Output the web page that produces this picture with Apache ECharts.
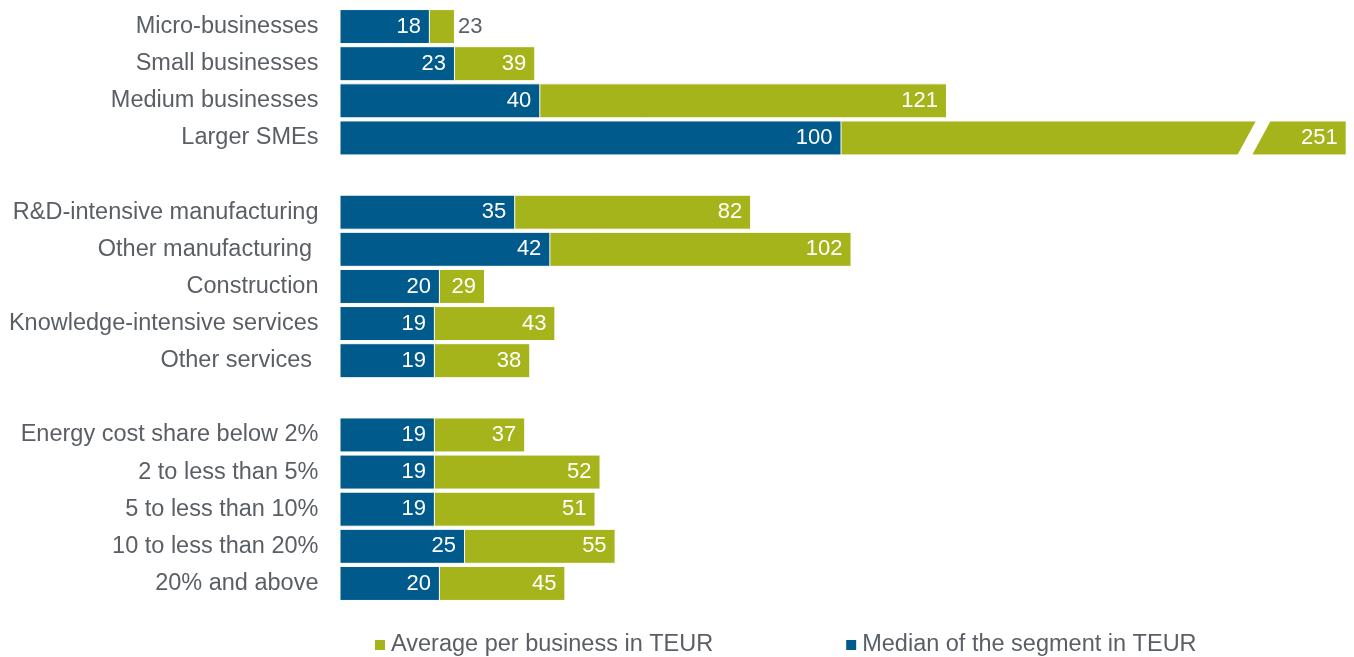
<!DOCTYPE html>
<html>
<head>
<meta charset="utf-8">
<script src="https://cdn.jsdelivr.net/npm/echarts@6/dist/echarts.min.js"></script>
<style>
  html, body { margin: 0; padding: 0; background: #fff; }
  #chart { width: 1354px; height: 657px; }
</style>
</head>
<body>
<div id="chart"></div>
<script>
// Segments (blank entries separate the three groups)
const categories = [
  'Micro-businesses', 'Small businesses', 'Medium businesses', 'Larger SMEs',
  ' ',
  'R&D-intensive manufacturing', 'Other manufacturing ', 'Construction',
  'Knowledge-intensive services', 'Other services ',
  '  ',
  'Energy cost share below 2%', '2 to less than 5%', '5 to less than 10%',
  '10 to less than 20%', '20% and above'
];
// Average per business in TEUR
const averageValues = [23, 39, 121, 251, null, 82, 102, 29, 43, 38, null, 37, 52, 51, 55, 45];
// Median of the segment in TEUR
const medianValues = [18, 23, 40, 100, null, 35, 42, 20, 19, 19, null, 19, 19, 19, 25, 20];
// Collapsed stretch of the value axis for the one long bar (gap in axis units)
const axisBreak = { start: 180.7, end: 234.0, gap: 2.93 };

const BLUE = '#005a8c';
const GREEN = '#a6b41b';
const GREY = '#5a5f65';
const FONT = 'Liberation Sans, Arial, sans-serif';

const chart = echarts.init(document.getElementById('chart'));

// Short bars get their value printed beside the bar instead of inside it
const averageData = averageValues.map(function (v, i) {
  if (v === null) return '-';
  if (medianValues[i] !== null && v - medianValues[i] < 8) {
    return { value: v, label: { position: 'right', color: GREY, distance: 3 } };
  }
  return v;
});

chart.setOption({
  animation: false,
  textStyle: { fontFamily: FONT },
  grid: { left: 339.5, right: 7.3, top: 8, bottom: 55, containLabel: false },
  legend: {
    data: ['Average per business in TEUR', 'Median of the segment in TEUR'],
    left: 375,
    top: 633,
    padding: 0,
    icon: 'rect',
    itemWidth: 10,
    itemHeight: 10,
    itemGap: 133,
    itemStyle: { borderWidth: 0 },
    textStyle: { fontSize: 23.5, color: GREY, fontFamily: FONT, padding: [0, 0, 0, 1] }
  },
  xAxis: {
    type: 'value',
    min: 0,
    max: 251,
    axisLine: { show: false },
    axisTick: { show: false },
    axisLabel: { show: false },
    splitLine: { show: false },
    breaks: [{ start: axisBreak.start, end: axisBreak.end, gap: axisBreak.gap }],
    breakArea: { show: false }
  },
  yAxis: {
    type: 'category',
    data: categories,
    inverse: true,
    axisLine: { show: false },
    axisTick: { show: false },
    axisLabel: { fontSize: 23.5, color: GREY, margin: 21, fontFamily: FONT }
  },
  series: [
    {
      name: 'Average per business in TEUR',
      type: 'bar',
      barWidth: 35,
      barGap: '-100%',
      data: averageData,
      itemStyle: { color: GREEN, borderColor: '#ffffff', borderWidth: 1 },
      label: {
        show: true,
        position: 'insideRight',
        distance: 9,
        color: '#ffffff',
        fontSize: 22,
        fontFamily: FONT
      },
      z: 2
    },
    {
      name: 'Median of the segment in TEUR',
      type: 'bar',
      barWidth: 35,
      barGap: '-100%',
      data: medianValues.map(function (v) { return v === null ? '-' : v; }),
      itemStyle: { color: BLUE, borderColor: '#ffffff', borderWidth: 1 },
      label: {
        show: true,
        position: 'insideRight',
        distance: 9,
        color: '#ffffff',
        fontSize: 22,
        fontFamily: FONT
      },
      z: 3
    },
    {
      // White slanted cut marking the shortened bar
      name: 'break',
      type: 'custom',
      silent: true,
      clip: false,
      z: 10,
      encode: { x: [0, 1], y: 2 },
      data: [[axisBreak.start, axisBreak.end, 3]],
      renderItem: function (params, api) {
        const a = api.coord([api.value(0), api.value(2)]);
        const b = api.coord([api.value(1), api.value(2)]);
        const hh = 19;
        const s = 10.3;
        return {
          type: 'polygon',
          shape: {
            points: [
              [a[0] + s, a[1] - hh],
              [b[0] + s, a[1] - hh],
              [b[0] - s, a[1] + hh],
              [a[0] - s, a[1] + hh]
            ]
          },
          style: { fill: '#ffffff' }
        };
      }
    }
  ]
});
</script>
</body>
</html>
